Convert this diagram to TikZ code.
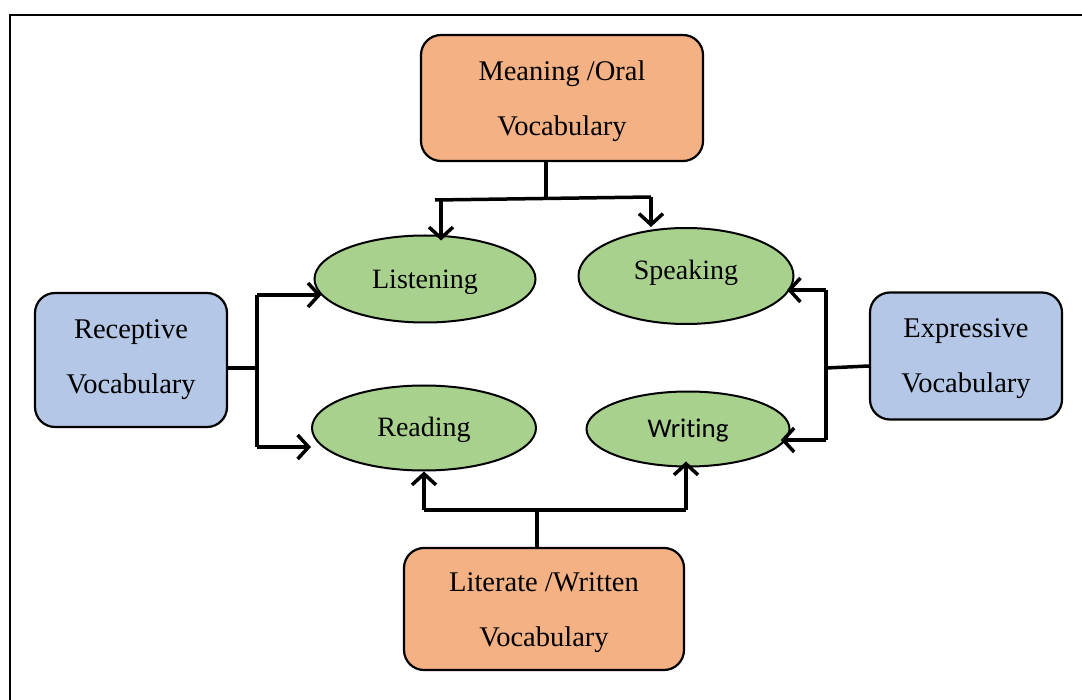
\documentclass[tikz,border=0pt]{standalone}
\usepackage{fontspec}
\setmainfont{Liberation Serif}
\newfontfamily\calib[Ligatures=NoCommon]{Carlito}
\usetikzlibrary{shapes.geometric,arrows.meta}
\definecolor{orangebox}{RGB}{244,177,131}
\definecolor{bluebox}{RGB}{180,199,231}
\definecolor{greenell}{RGB}{169,209,142}
\newcommand{\mv}[2]{\raisebox{#1}[\height][\depth]{#2}}
\begin{document}
\begin{tikzpicture}[x=1pt,y=-1pt,
  box/.style={draw=black,line width=2.2pt,rounded corners=20pt,align=center,
    inner sep=0pt,font=\fontsize{28.5}{55}\selectfont},
  obox/.style={box,fill=orangebox},
  bbox/.style={box,fill=bluebox},
  ell/.style={ellipse,draw=black,line width=2pt,fill=greenell,inner sep=0pt,
    font=\fontsize{28}{32}\selectfont},
  conn/.style={line width=3.5pt},
  arr/.style={conn,-{Straight Barb[length=11pt,width=24pt,line width=3.5pt]}}]
\useasboundingbox (0,0) rectangle (1082,700);
\begin{scope}
\clip (0,0) rectangle (1082,700);
\draw[line width=2.8pt] (10,720) -- (10,15) -- (1100,15);
\end{scope}
% boxes
\node[obox,minimum width=282pt,minimum height=126pt] (top) at (562,98) {\mv{-3pt}{Meaning /Oral}\\\mv{-3pt}{Vocabulary}};
\node[bbox,minimum width=192pt,minimum height=134pt] (rec) at (131,360) {Receptive\\Vocabulary};
\node[bbox,minimum width=192pt,minimum height=127pt] (exp) at (966,356) {\mv{-2.5pt}{Expressive}\\\mv{-2.5pt}{Vocabulary}};
\node[obox,minimum width=280pt,minimum height=122pt] (lit) at (544,609) {\mv{-4pt}{Literate /Written}\\\mv{-4pt}{Vocabulary}};
% ellipses
\node[ell,minimum width=221pt,minimum height=87pt] (listen) at (425,279) {\mv{-3pt}{Listening}};
\node[ell,minimum width=215pt,minimum height=96pt] (speak) at (686,276) {\mv{3pt}{Speaking}};
\node[ell,minimum width=224pt,minimum height=85pt] (read) at (424,428) {\mv{-2pt}{Reading}};
\node[ell,minimum width=203pt,minimum height=75pt,font=\calib\fontsize{27}{32}\selectfont] (write) at (688,429) {\mv{-2pt}{Writing}};
% top connectors
\coordinate (tj) at (546,199);
\coordinate (tl) at (435,200);
\coordinate (tr) at (651,197);
\coordinate (la) at (441,200);
\coordinate (sa) at (651,197);
\draw[conn] (tj |- top.south) -- (tj);
\draw[conn] (tl) -- (tr);
\draw[arr,shorten >=-6pt] (la) -- (la |- listen.north);
\draw[arr] (sa) -- (sa |- speak.north);
% left connectors
\coordinate (lj) at (257,368);
\coordinate (lt) at (257,295);
\coordinate (lb) at (257,447);
\draw[conn] (lj -| rec.east) -- (lj);
\draw[conn] (lt) -- (lb);
\draw[arr] (lt) -- (lt -| listen.189);
\draw[arr] (lb) -- (lb -| read.west);
% right connectors
\coordinate (rj) at (826,368);
\coordinate (rt) at (826,290);
\coordinate (rb) at (826,440);
\draw[conn] (exp.west |- 0,366) -- (rj);
\draw[conn] (rt) -- (rb);
\draw[arr] (rt) -- (rt -| speak.-10);
\draw[arr] (rb) -- (rb -| write.-10);
% bottom connectors
\coordinate (bj) at (537,510);
\coordinate (bl) at (424,510);
\coordinate (br) at (686,510);
\draw[conn] (bj |- lit.north) -- (bj);
\draw[conn] (bl) -- (br);
\draw[arr] (bl) -- (bl |- read.south);
\draw[arr,shorten >=-6pt] (br) -- (br |- write.south);
\end{tikzpicture}
\end{document}
